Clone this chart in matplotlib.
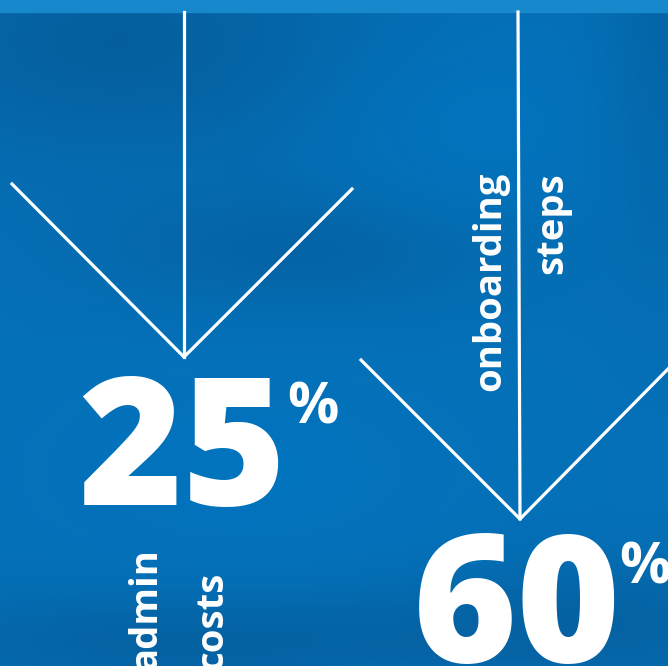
import numpy as np
import matplotlib.pyplot as plt

# цифры и подписи
values = [25, 60]
labels = [["admin", "costs"], ["onboarding", "steps"]]

W, H = 668, 666

fig = plt.figure(figsize=(W / 100, H / 100), dpi=100)
ax = fig.add_axes([0, 0, 1, 1])
ax.set_xlim(0, W)
ax.set_ylim(H, 0)
ax.axis('off')

# фон: синий с мягкими пятнами
yy, xx = np.mgrid[0:H, 0:W]
base = np.array([0.02, 0.44, 0.72])
dark = np.array([0.02, 0.36, 0.60])
glow = np.array([0.00, 0.46, 0.76])


def blob(cx, cy, rx, ry):
    return np.exp(-(((xx - cx) / rx) ** 2 + ((yy - cy) / ry) ** 2))


d = (0.8 * blob(120, 40, 260, 120) + 0.6 * blob(300, 250, 200, 60)
     + 0.7 * blob(200, 640, 300, 50) + 0.6 * blob(600, 620, 200, 60)
     + 0.5 * blob(660, 60, 60, 200))
d = np.clip(d, 0, 1)
g = np.clip(blob(470, 120, 140, 100) + blob(250, 470, 200, 100), 0, 1)
img = base[None, None, :] * (1 - d[..., None]) + dark[None, None, :] * d[..., None]
img = img * (1 - 0.6 * g[..., None]) + glow[None, None, :] * 0.6 * g[..., None]
ax.imshow(img, extent=(0, W, H, 0), zorder=0, interpolation='bilinear')

# полоса сверху
ax.add_patch(plt.Rectangle((0, 0), W, 12, color='#1888CC', zorder=1))

lw = 2.3
# стрелка 1
ax.plot([184, 184], [12, 357], color='white', lw=lw, zorder=2)
ax.plot([12, 184, 352], [184, 357, 189], color='white', lw=lw, zorder=2)
# стрелка 2
ax.plot([518, 520], [12, 519], color='white', lw=lw, zorder=2)
ax.plot([361, 520, 668], [360, 519, 369], color='white', lw=lw, zorder=2)

font = 'Open Sans'
big = 128
small = 41
lab = 27.5

# 25%
ax.text(78, 505, str(values[0]), fontsize=big, fontweight='heavy', family=font,
        color='white', ha='left', va='baseline', zorder=3)
ax.text(287, 423, '%', fontsize=small, fontweight='bold', family=font,
        color='white', ha='left', va='baseline', zorder=3)
ax.text(146, 670, labels[0][0], fontsize=lab, fontweight='bold', family=font,
        color='white', ha='center', va='bottom', rotation=90, zorder=3)
ax.text(212, 670, labels[0][1], fontsize=lab, fontweight='bold', family=font,
        color='white', ha='center', va='bottom', rotation=90, zorder=3)

# 60%
ax.text(413, 662, str(values[1]), fontsize=big, fontweight='heavy', family=font,
        color='white', ha='left', va='baseline', zorder=3)
ax.text(619, 584, '%', fontsize=small, fontweight='bold', family=font,
        color='white', ha='left', va='baseline', zorder=3)
ax.text(490, 172, labels[1][0], fontsize=lab, fontweight='bold', family=font,
        color='white', ha='center', va='top', rotation=90, zorder=3)
ax.text(552, 172, labels[1][1], fontsize=lab, fontweight='bold', family=font,
        color='white', ha='center', va='top', rotation=90, zorder=3)

fig.savefig('out.png', dpi=100)
